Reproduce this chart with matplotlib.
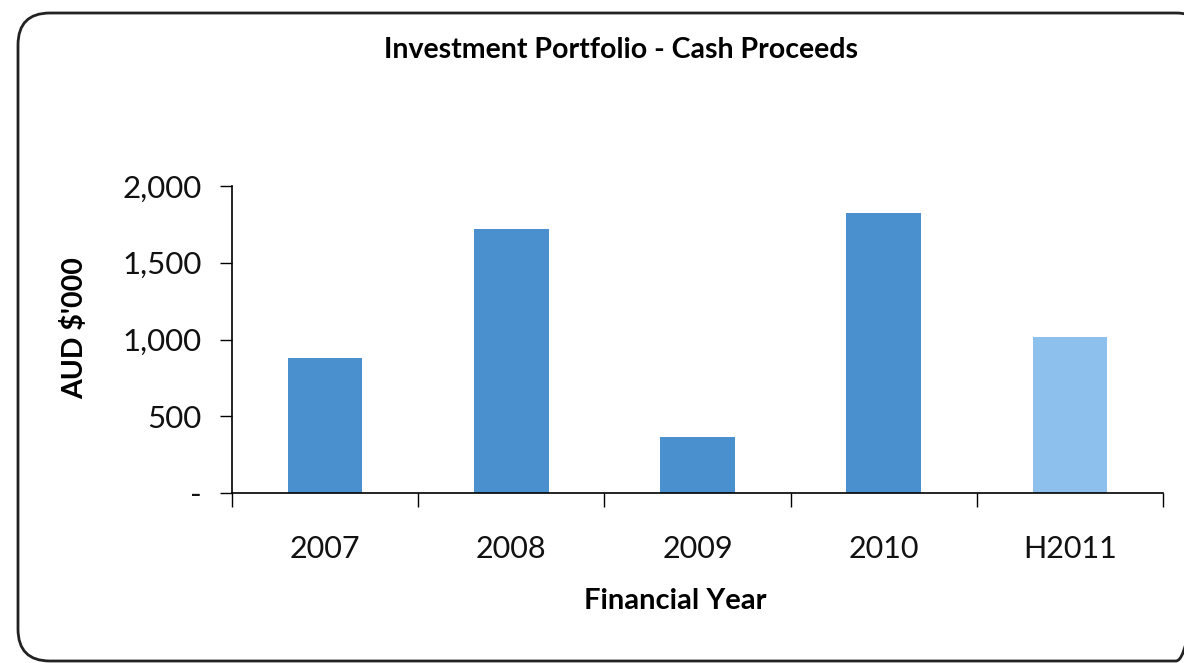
import matplotlib.pyplot as plt
from matplotlib.patches import FancyBboxPatch
from matplotlib.ticker import FixedLocator

plt.rcParams['font.family'] = ['Lato', 'DejaVu Sans']

years = ["2007", "2008", "2009", "2010", "H2011"]
proceeds = [878, 1722, 363, 1824, 1019]  # AUD $'000
bar_colors = ["#4a90cf", "#4a90cf", "#4a90cf", "#4a90cf", "#8ec0ee"]
y_ticks = [0, 500, 1000, 1500, 2000]
y_labels = ["-", "500", "1,000", "1,500", "2,000"]

fig = plt.figure(figsize=(11.84, 6.63), dpi=100)

# rounded frame around the whole chart
bg = fig.add_axes([0, 0, 1, 1])
bg.set_xlim(0, 1184)
bg.set_ylim(663, 0)
bg.axis("off")
bg.add_patch(FancyBboxPatch((18, 13), 1190, 648, boxstyle="round,pad=0,rounding_size=32",
                            fill=False, edgecolor="#222222", linewidth=2.0))

ax = fig.add_axes([232/1184, 1-493/663, (1163-232)/1184, (493-186)/663])
x = list(range(len(years)))
ax.bar(x, proceeds, width=0.4, color=bar_colors)

ax.set_xlim(-0.5, len(years) - 0.5)
ax.set_ylim(0, 2000)
ax.set_yticks(y_ticks)
ax.set_yticklabels(y_labels, fontsize=22.5, color="#111111")
ax.tick_params(axis="y", length=9, width=1, pad=13)

ax.xaxis.set_major_locator(FixedLocator([i - 0.5 for i in range(len(years) + 1)]))
ax.set_xticklabels([""] * (len(years) + 1))
ax.set_xticks(x, minor=True)
ax.set_xticklabels(years, minor=True, fontsize=22, color="#111111")
ax.tick_params(axis="x", which="major", length=10, width=1)
ax.tick_params(axis="x", which="minor", length=0, pad=30)

for s in ["top", "right"]:
    ax.spines[s].set_visible(False)
for s in ["left", "bottom"]:
    ax.spines[s].set_linewidth(1.2)

fig.text(621/1184, 1-50/663, "Investment Portfolio - Cash Proceeds", ha="center", va="center",
         fontsize=20.5, fontweight="bold")
fig.text(75/1184, 1-328/663, "AUD $'000", ha="center", va="center", rotation=90,
         fontsize=20.5, fontweight="bold")
fig.text(675/1184, 1-601/663, "Financial Year", ha="center", va="center",
         fontsize=21, fontweight="bold")

fig.savefig("out.png", dpi=100)
